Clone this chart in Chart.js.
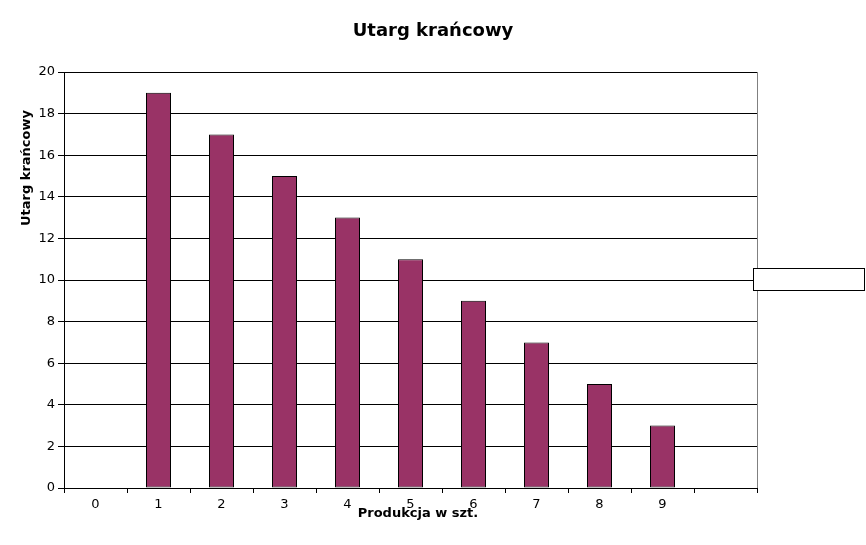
<!DOCTYPE html>
<html>
<head>
<meta charset="utf-8">
<script src="https://cdn.jsdelivr.net/npm/chart.js@4/dist/chart.umd.min.js"></script>
<style>
  html, body { margin: 0; padding: 0; background: #ffffff; }
  #wrap { width: 866px; height: 545px; }
</style>
</head>
<body>
<div id="wrap"><canvas id="c" width="866" height="545"></canvas></div>
<script>
const categories = ['0', '1', '2', '3', '4', '5', '6', '7', '8', '9', ''];
const marginalRevenue = [null, 19, 17, 15, 13, 11, 9, 7, 5, 3, null];
const yTicks = [0, 2, 4, 6, 8, 10, 12, 14, 16, 18, 20];
const chartTitle = 'Utarg krańcowy';
const yTitle = 'Utarg krańcowy';
const xTitle = 'Produkcja w szt.';

const FONT = 'DejaVu Sans';

const framePlugin = {
  id: 'frame',
  afterDraw(chart) {
    const { ctx, chartArea } = chart;
    ctx.save();
    // right border of plot area (grey)
    ctx.strokeStyle = '#808080';
    ctx.lineWidth = 1;
    ctx.beginPath();
    ctx.moveTo(Math.round(chartArea.right) + 0.5, chartArea.top);
    ctx.lineTo(Math.round(chartArea.right) + 0.5, chartArea.bottom);
    ctx.stroke();
    // empty legend box
    ctx.fillStyle = '#ffffff';
    ctx.fillRect(753.5, 268.5, 111, 22);
    ctx.strokeStyle = '#000000';
    ctx.strokeRect(753.5, 268.5, 111, 22);
    // axis titles
    ctx.fillStyle = '#000000';
    ctx.font = 'bold 13px "' + FONT + '"';
    ctx.textAlign = 'center';
    ctx.textBaseline = 'middle';
    ctx.fillText(xTitle, 418, 514);
    ctx.translate(27, 168);
    ctx.rotate(-Math.PI / 2);
    ctx.fillText(yTitle, 0, 0);
    ctx.restore();
  }
};

new Chart(document.getElementById('c'), {
  type: 'bar',
  data: {
    labels: categories,
    datasets: [{
      data: marginalRevenue,
      backgroundColor: '#993366',
      borderColor: '#000000',
      borderWidth: 1,
      borderSkipped: false,
      categoryPercentage: 1.0,
      barPercentage: 25 / 63
    }]
  },
  options: {
    responsive: false,
    animation: false,
    devicePixelRatio: 1,
    layout: { padding: { left: 0, right: 0, top: 0, bottom: 0 } },
    plugins: {
      legend: { display: false },
      tooltip: { enabled: false },
      title: {
        display: true,
        text: chartTitle,
        color: '#000000',
        font: { family: FONT, size: 18, weight: 'bold' },
        padding: { top: 21, bottom: 29.4 }
      }
    },
    scales: {
      x: {
        offset: true,
        grid: {
          offset: true,
          drawOnChartArea: false,
          drawTicks: true,
          tickLength: 5,
          color: '#000000'
        },
        border: { display: true, color: '#000000', width: 1 },
        ticks: {
          color: '#000000',
          font: { family: FONT, size: 13 },
          padding: 4,
          maxRotation: 0,
          autoSkip: false
        },
        title: { display: false },
        afterFit(scale) { scale.height = 57; }
      },
      y: {
        min: 0,
        max: 20,
        afterBuildTicks(scale) { scale.ticks = yTicks.map(v => ({ value: v })); },
        grid: {
          color: '#000000',
          lineWidth: 1,
          tickLength: 6,
          drawTicks: true
        },
        border: { display: true, color: '#000000', width: 1 },
        ticks: {
          color: '#000000',
          font: { family: FONT, size: 13 },
          padding: 3
        },
        title: { display: false },
        afterFit(scale) { scale.width = 64; }
      },
      yRight: {
        position: 'right',
        display: true,
        grid: { display: false, drawTicks: false },
        border: { display: false },
        ticks: { display: false },
        afterFit(scale) { scale.width = 109; }
      }
    }
  },
  plugins: [framePlugin]
});
</script>
</body>
</html>
